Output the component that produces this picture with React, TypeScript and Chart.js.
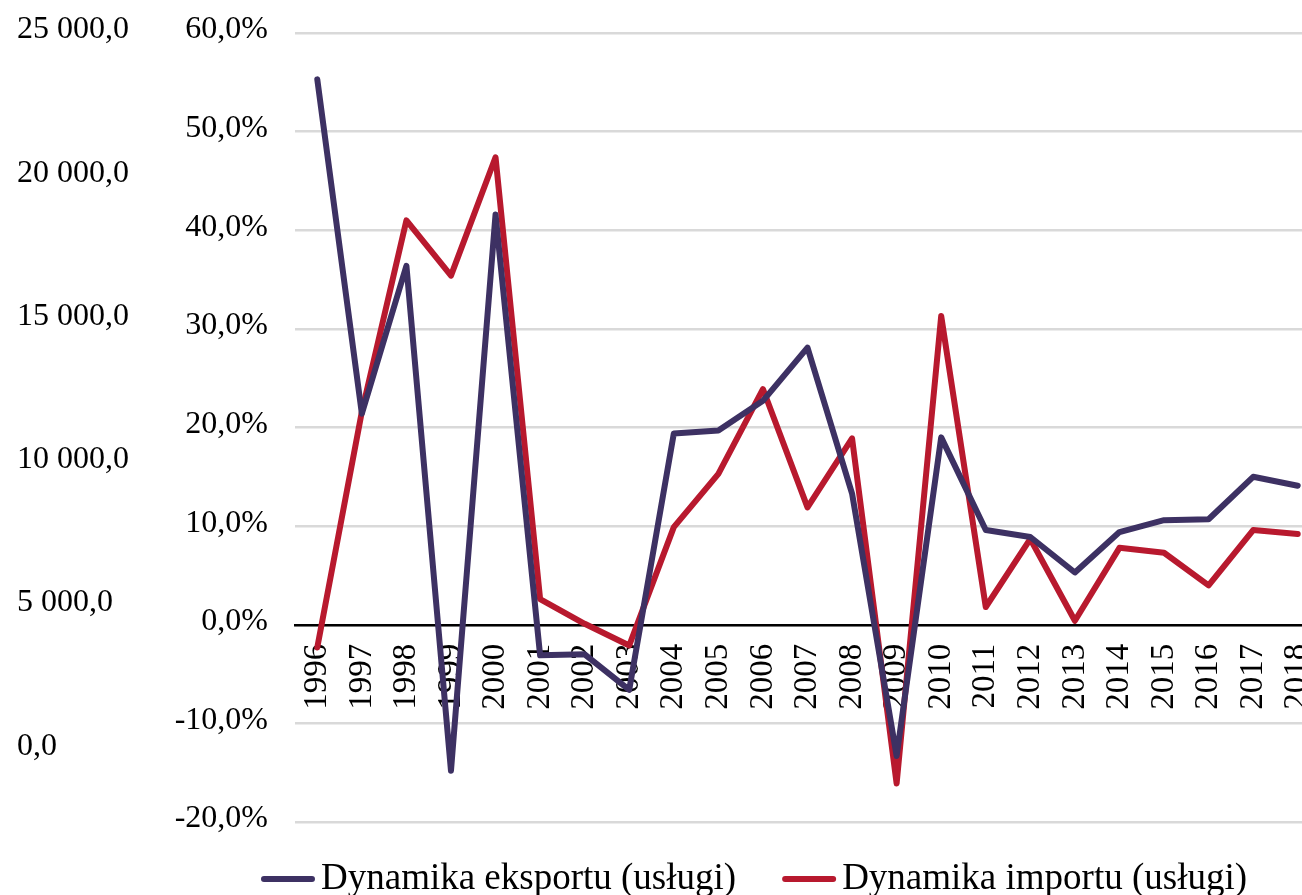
import React, { useEffect, useRef } from "react";
import { Chart, registerables } from "chart.js";

Chart.register(...registerables);

const years = ["1996","1997","1998","1999","2000","2001","2002","2003","2004","2005","2006","2007","2008","2009","2010","2011","2012","2013","2014","2015","2016","2017","2018"];
const exportDyn = [55.3, 21.4, 36.4, -14.8, 41.6, -3.1, -3.0, -6.6, 19.4, 19.7, 22.7, 28.1, 13.3, -13.3, 19.0, 9.6, 8.9, 5.3, 9.4, 10.6, 10.7, 15.0, 14.1];
const importDyn = [-2.3, 21.6, 41.0, 35.4, 47.4, 2.6, 0.1, -2.1, 9.9, 15.3, 23.9, 11.9, 18.9, -16.1, 31.3, 1.8, 8.7, 0.4, 7.8, 7.3, 4.0, 9.6, 9.2];
const seriesLabels = ["Dynamika eksportu (usługi)", "Dynamika importu (usługi)"];
const seriesColors = ["#3d3163", "#b8192e"];
const pctTicks = [-20, -10, 0, 10, 20, 30, 40, 50, 60];
const valueTicks = [0, 5000, 10000, 15000, 20000, 25000];

const FONT = "'Liberation Serif', 'Times New Roman', serif";

const fmtNum = (v: number) => {
  const s = Math.abs(v).toFixed(1).split(".");
  const int = s[0].replace(/\B(?=(\d{3})+(?!\d))/g, " ");
  return (v < 0 ? "-" : "") + int + "," + s[1];
};

const zeroPad = (axis: any) => {
  axis.paddingLeft = 0;
  axis.paddingRight = 0;
  axis.paddingTop = 0;
  axis.paddingBottom = 0;
};

const legendPlugin = {
  id: "customLegend",
  afterDraw(chart: any) {
    const ctx = chart.ctx;
    const ds = chart.data.datasets;
    ctx.save();
    ctx.font = `37px ${FONT}`;
    const lineLen = 54, gapLT = 6, gapItems = 46;
    const widths = ds.map((d: any) => ctx.measureText(d.label).width);
    let total = 0;
    widths.forEach((w: number, i: number) => {
      total += lineLen + gapLT + w + (i < widths.length - 1 ? gapItems : 0);
    });
    const cx = 754;
    const cy = 879;
    let x = cx - total / 2;
    ds.forEach((d: any, i: number) => {
      ctx.strokeStyle = d.borderColor;
      ctx.lineWidth = 6;
      ctx.lineCap = "round";
      ctx.beginPath();
      ctx.moveTo(x + 3, cy);
      ctx.lineTo(x + lineLen - 3, cy);
      ctx.stroke();
      x += lineLen + gapLT;
      ctx.fillStyle = "#000";
      ctx.textAlign = "left";
      ctx.textBaseline = "middle";
      ctx.fillText(d.label, x, cy);
      x += widths[i] + gapItems;
    });
    ctx.restore();
  },
};

export default function App() {
  const ref = useRef<HTMLCanvasElement | null>(null);
  useEffect(() => {
    document.body.style.margin = "0";
    document.body.style.overflow = "hidden";
    document.documentElement.style.overflow = "hidden";
    const canvas = ref.current!;
    const chart = new Chart(canvas, {
      type: "line",
      data: {
        labels: years,
        datasets: [
          {
            label: seriesLabels[0],
            data: exportDyn,
            borderColor: seriesColors[0],
            backgroundColor: seriesColors[0],
            borderWidth: 6,
            pointRadius: 0,
            tension: 0,
            borderJoinStyle: "round",
            borderCapStyle: "round",
            yAxisID: "y",
          },
          {
            label: seriesLabels[1],
            data: importDyn,
            borderColor: seriesColors[1],
            backgroundColor: seriesColors[1],
            borderWidth: 6,
            pointRadius: 0,
            tension: 0,
            borderJoinStyle: "round",
            borderCapStyle: "round",
            yAxisID: "y",
          },
        ],
      },
      options: {
        responsive: false,
        animation: false,
        layout: { padding: { left: 17, top: 33, bottom: 73, right: 0 } },
        plugins: {
          legend: { display: false },
          tooltip: { enabled: false },
        },
        scales: {
          x: {
            type: "category",
            position: { y: 0 } as any,
            offset: true,
            afterFit: zeroPad,
            grid: { display: false, drawTicks: false },
            border: { display: true, color: "#000", width: 2.5 },
            ticks: {
              autoSkip: false,
              minRotation: 90,
              maxRotation: 90,
              padding: 19,
              color: "#000",
              font: { family: FONT, size: 33 },
            },
          },
          y: {
            type: "linear",
            position: "left",
            weight: 0,
            min: -20,
            max: 60,
            afterBuildTicks: (axis: any) => {
              axis.ticks = pctTicks.map((v) => ({ value: v }));
            },
            afterFit: (axis: any) => {
              axis.width = 140;
              zeroPad(axis);
            },
            grid: { color: "#d9d9d9", lineWidth: 2.5, drawTicks: false },
            border: { display: false },
            ticks: {
              padding: 27,
              labelOffset: -3,
              color: "#000",
              font: { family: FONT, size: 32 },
              callback: (v: any) => fmtNum(Number(v)) + "%",
            },
          },
          y2: {
            type: "linear",
            position: "left",
            weight: 1,
            min: -2540,
            max: 25000,
            afterBuildTicks: (axis: any) => {
              axis.ticks = valueTicks.map((v) => ({ value: v }));
            },
            afterFit: (axis: any) => {
              axis.width = 138;
              zeroPad(axis);
            },
            grid: { display: false, drawTicks: false },
            border: { display: false },
            ticks: {
              crossAlign: "far",
              padding: 0,
              labelOffset: -3,
              color: "#000",
              font: { family: FONT, size: 32 },
              callback: (v: any) => fmtNum(Number(v)),
            },
          },
        },
      },
      plugins: [legendPlugin],
    } as any);
    return () => chart.destroy();
  }, []);
  return (
    <canvas
      ref={ref}
      width={1320}
      height={895}
      style={{ position: "absolute", left: 0, top: 0, width: 1320, height: 895 }}
    />
  );
}
